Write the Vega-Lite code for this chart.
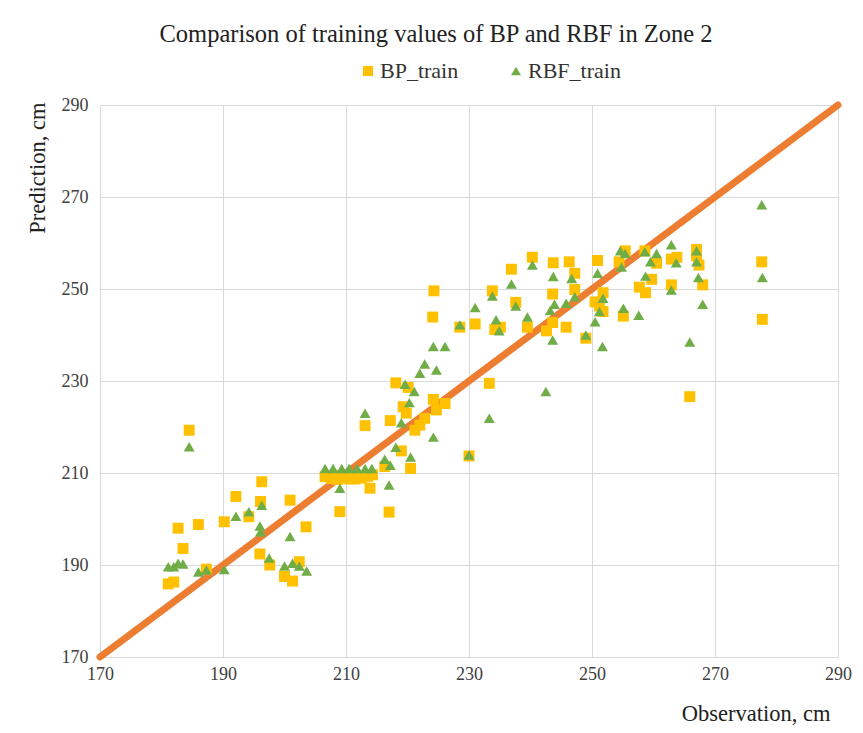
{
  "$schema": "https://vega.github.io/schema/vega-lite/v6.json",
  "autosize": "none",
  "padding": {"left": 100, "top": 105, "right": 25, "bottom": 76},
  "width": 738,
  "height": 552,
  "background": "white",
  "title": {
    "text": "Comparison of training values of BP and RBF in Zone 2",
    "font": "Liberation Serif",
    "fontSize": 24.5,
    "fontWeight": "normal",
    "color": "#222222",
    "anchor": "middle",
    "frame": "group",
    "dx": -33,
    "offset": 13
  },
  "config": {
    "view": {"stroke": null},
    "axis": {
      "labelFont": "Liberation Serif",
      "labelFontSize": 18,
      "labelColor": "#404040",
      "labelFlush": false,
      "titleFont": "Liberation Serif",
      "titleFontSize": 22.5,
      "titleFontWeight": "normal",
      "titleColor": "#222222",
      "gridColor": "#D9D9D9",
      "gridWidth": 1,
      "domain": false,
      "ticks": false
    },
    "legend": {
      "labelFont": "Liberation Serif",
      "labelFontSize": 22,
      "labelColor": "#333333"
    }
  },
  "datasets": {
    "pts": [
      {"s":"BP_train","obs":184.5,"pred":219.3},
      {"s":"BP_train","obs":196.3,"pred":208.1},
      {"s":"BP_train","obs":192.1,"pred":204.9},
      {"s":"BP_train","obs":196.1,"pred":203.8},
      {"s":"BP_train","obs":200.9,"pred":204.1},
      {"s":"BP_train","obs":182.7,"pred":198.0},
      {"s":"BP_train","obs":186.0,"pred":198.8},
      {"s":"BP_train","obs":190.2,"pred":199.4},
      {"s":"BP_train","obs":194.2,"pred":200.5},
      {"s":"BP_train","obs":203.5,"pred":198.3},
      {"s":"BP_train","obs":183.5,"pred":193.6},
      {"s":"BP_train","obs":196.0,"pred":192.4},
      {"s":"BP_train","obs":197.6,"pred":190.0},
      {"s":"BP_train","obs":202.4,"pred":190.7},
      {"s":"BP_train","obs":187.3,"pred":189.1},
      {"s":"BP_train","obs":200.0,"pred":187.5},
      {"s":"BP_train","obs":201.3,"pred":186.5},
      {"s":"BP_train","obs":181.1,"pred":185.9},
      {"s":"BP_train","obs":182.0,"pred":186.3},
      {"s":"BP_train","obs":206.6,"pred":209.2},
      {"s":"BP_train","obs":207.6,"pred":208.8},
      {"s":"BP_train","obs":208.6,"pred":208.6},
      {"s":"BP_train","obs":209.6,"pred":208.9},
      {"s":"BP_train","obs":210.6,"pred":208.7},
      {"s":"BP_train","obs":211.5,"pred":208.7},
      {"s":"BP_train","obs":212.5,"pred":208.9},
      {"s":"BP_train","obs":213.5,"pred":209.3},
      {"s":"BP_train","obs":214.3,"pred":209.6},
      {"s":"BP_train","obs":208.2,"pred":209.5},
      {"s":"BP_train","obs":211.0,"pred":209.4},
      {"s":"BP_train","obs":213.1,"pred":220.3},
      {"s":"BP_train","obs":209.0,"pred":201.6},
      {"s":"BP_train","obs":213.9,"pred":206.7},
      {"s":"BP_train","obs":217.0,"pred":201.5},
      {"s":"BP_train","obs":216.3,"pred":211.4},
      {"s":"BP_train","obs":219.0,"pred":214.8},
      {"s":"BP_train","obs":220.5,"pred":211.0},
      {"s":"BP_train","obs":217.2,"pred":221.4},
      {"s":"BP_train","obs":219.3,"pred":224.4},
      {"s":"BP_train","obs":219.8,"pred":223.0},
      {"s":"BP_train","obs":218.1,"pred":229.6},
      {"s":"BP_train","obs":220.1,"pred":228.6},
      {"s":"BP_train","obs":221.2,"pred":219.3},
      {"s":"BP_train","obs":222.0,"pred":220.4},
      {"s":"BP_train","obs":222.8,"pred":221.9},
      {"s":"BP_train","obs":224.2,"pred":226.0},
      {"s":"BP_train","obs":224.7,"pred":223.7},
      {"s":"BP_train","obs":226.1,"pred":225.1},
      {"s":"BP_train","obs":224.3,"pred":249.6},
      {"s":"BP_train","obs":224.1,"pred":243.9},
      {"s":"BP_train","obs":228.5,"pred":241.7},
      {"s":"BP_train","obs":231.0,"pred":242.4},
      {"s":"BP_train","obs":233.3,"pred":229.5},
      {"s":"BP_train","obs":230.0,"pred":213.7},
      {"s":"BP_train","obs":236.9,"pred":254.3},
      {"s":"BP_train","obs":233.8,"pred":249.6},
      {"s":"BP_train","obs":237.6,"pred":247.1},
      {"s":"BP_train","obs":234.2,"pred":241.2},
      {"s":"BP_train","obs":235.1,"pred":241.7},
      {"s":"BP_train","obs":240.3,"pred":256.9},
      {"s":"BP_train","obs":243.7,"pred":255.7},
      {"s":"BP_train","obs":246.3,"pred":255.9},
      {"s":"BP_train","obs":243.6,"pred":248.9},
      {"s":"BP_train","obs":239.5,"pred":241.7},
      {"s":"BP_train","obs":242.6,"pred":240.9},
      {"s":"BP_train","obs":243.6,"pred":242.7},
      {"s":"BP_train","obs":245.8,"pred":241.7},
      {"s":"BP_train","obs":247.2,"pred":253.4},
      {"s":"BP_train","obs":250.9,"pred":256.2},
      {"s":"BP_train","obs":247.2,"pred":249.9},
      {"s":"BP_train","obs":251.8,"pred":249.2},
      {"s":"BP_train","obs":250.5,"pred":247.2},
      {"s":"BP_train","obs":251.2,"pred":246.3},
      {"s":"BP_train","obs":251.8,"pred":245.1},
      {"s":"BP_train","obs":249.0,"pred":239.3},
      {"s":"BP_train","obs":255.4,"pred":258.3},
      {"s":"BP_train","obs":254.4,"pred":255.9},
      {"s":"BP_train","obs":258.6,"pred":258.3},
      {"s":"BP_train","obs":260.5,"pred":255.6},
      {"s":"BP_train","obs":259.7,"pred":252.1},
      {"s":"BP_train","obs":257.7,"pred":250.4},
      {"s":"BP_train","obs":258.7,"pred":249.2},
      {"s":"BP_train","obs":255.1,"pred":244.1},
      {"s":"BP_train","obs":262.9,"pred":256.5},
      {"s":"BP_train","obs":263.8,"pred":256.9},
      {"s":"BP_train","obs":262.9,"pred":250.9},
      {"s":"BP_train","obs":267.0,"pred":258.6},
      {"s":"BP_train","obs":267.0,"pred":257.2},
      {"s":"BP_train","obs":267.4,"pred":255.2},
      {"s":"BP_train","obs":268.0,"pred":250.9},
      {"s":"BP_train","obs":265.9,"pred":226.6},
      {"s":"BP_train","obs":277.6,"pred":255.9},
      {"s":"BP_train","obs":277.7,"pred":243.4},
      {"s":"RBF_train","obs":184.5,"pred":215.7},
      {"s":"RBF_train","obs":192.1,"pred":200.6},
      {"s":"RBF_train","obs":194.2,"pred":201.6},
      {"s":"RBF_train","obs":196.3,"pred":203.0},
      {"s":"RBF_train","obs":196.0,"pred":198.5},
      {"s":"RBF_train","obs":196.1,"pred":197.2},
      {"s":"RBF_train","obs":200.9,"pred":196.2},
      {"s":"RBF_train","obs":197.5,"pred":191.5},
      {"s":"RBF_train","obs":181.1,"pred":189.6},
      {"s":"RBF_train","obs":182.0,"pred":189.6},
      {"s":"RBF_train","obs":182.7,"pred":190.4},
      {"s":"RBF_train","obs":183.5,"pred":190.2},
      {"s":"RBF_train","obs":186.0,"pred":188.5},
      {"s":"RBF_train","obs":187.3,"pred":188.9},
      {"s":"RBF_train","obs":190.2,"pred":189.0},
      {"s":"RBF_train","obs":200.0,"pred":189.8},
      {"s":"RBF_train","obs":201.3,"pred":190.4},
      {"s":"RBF_train","obs":202.4,"pred":189.8},
      {"s":"RBF_train","obs":203.6,"pred":188.7},
      {"s":"RBF_train","obs":206.6,"pred":211.0},
      {"s":"RBF_train","obs":207.9,"pred":211.0},
      {"s":"RBF_train","obs":209.3,"pred":211.0},
      {"s":"RBF_train","obs":210.5,"pred":211.0},
      {"s":"RBF_train","obs":211.8,"pred":211.0},
      {"s":"RBF_train","obs":213.1,"pred":211.0},
      {"s":"RBF_train","obs":214.2,"pred":211.0},
      {"s":"RBF_train","obs":213.1,"pred":223.0},
      {"s":"RBF_train","obs":209.0,"pred":206.7},
      {"s":"RBF_train","obs":217.0,"pred":207.4},
      {"s":"RBF_train","obs":216.3,"pred":213.0},
      {"s":"RBF_train","obs":217.2,"pred":211.7},
      {"s":"RBF_train","obs":218.1,"pred":215.6},
      {"s":"RBF_train","obs":220.5,"pred":213.5},
      {"s":"RBF_train","obs":219.0,"pred":220.9},
      {"s":"RBF_train","obs":220.3,"pred":225.3},
      {"s":"RBF_train","obs":219.6,"pred":229.3},
      {"s":"RBF_train","obs":221.1,"pred":227.7},
      {"s":"RBF_train","obs":222.0,"pred":231.7},
      {"s":"RBF_train","obs":222.8,"pred":233.7},
      {"s":"RBF_train","obs":224.7,"pred":232.4},
      {"s":"RBF_train","obs":224.2,"pred":217.8},
      {"s":"RBF_train","obs":228.5,"pred":242.2},
      {"s":"RBF_train","obs":231.0,"pred":246.0},
      {"s":"RBF_train","obs":224.2,"pred":237.5},
      {"s":"RBF_train","obs":226.1,"pred":237.5},
      {"s":"RBF_train","obs":233.3,"pred":221.9},
      {"s":"RBF_train","obs":230.0,"pred":213.9},
      {"s":"RBF_train","obs":242.5,"pred":227.7},
      {"s":"RBF_train","obs":233.8,"pred":248.5},
      {"s":"RBF_train","obs":236.9,"pred":251.1},
      {"s":"RBF_train","obs":237.6,"pred":246.3},
      {"s":"RBF_train","obs":234.4,"pred":243.3},
      {"s":"RBF_train","obs":234.9,"pred":240.9},
      {"s":"RBF_train","obs":240.3,"pred":255.2},
      {"s":"RBF_train","obs":243.7,"pred":252.7},
      {"s":"RBF_train","obs":243.9,"pred":246.7},
      {"s":"RBF_train","obs":243.2,"pred":245.3},
      {"s":"RBF_train","obs":245.8,"pred":246.9},
      {"s":"RBF_train","obs":239.5,"pred":243.9},
      {"s":"RBF_train","obs":243.6,"pred":238.9},
      {"s":"RBF_train","obs":246.7,"pred":252.3},
      {"s":"RBF_train","obs":250.9,"pred":253.4},
      {"s":"RBF_train","obs":247.2,"pred":248.3},
      {"s":"RBF_train","obs":251.8,"pred":248.0},
      {"s":"RBF_train","obs":251.2,"pred":245.1},
      {"s":"RBF_train","obs":250.5,"pred":242.9},
      {"s":"RBF_train","obs":249.0,"pred":240.0},
      {"s":"RBF_train","obs":251.7,"pred":237.5},
      {"s":"RBF_train","obs":254.6,"pred":258.3},
      {"s":"RBF_train","obs":255.4,"pred":257.7},
      {"s":"RBF_train","obs":254.8,"pred":254.8},
      {"s":"RBF_train","obs":258.6,"pred":258.1},
      {"s":"RBF_train","obs":260.5,"pred":257.7},
      {"s":"RBF_train","obs":259.5,"pred":255.9},
      {"s":"RBF_train","obs":258.7,"pred":252.8},
      {"s":"RBF_train","obs":255.1,"pred":245.8},
      {"s":"RBF_train","obs":257.6,"pred":244.3},
      {"s":"RBF_train","obs":262.9,"pred":259.6},
      {"s":"RBF_train","obs":263.7,"pred":255.7},
      {"s":"RBF_train","obs":262.9,"pred":249.8},
      {"s":"RBF_train","obs":267.0,"pred":258.3},
      {"s":"RBF_train","obs":267.0,"pred":255.9},
      {"s":"RBF_train","obs":267.3,"pred":252.5},
      {"s":"RBF_train","obs":268.0,"pred":246.7},
      {"s":"RBF_train","obs":265.9,"pred":238.5},
      {"s":"RBF_train","obs":277.6,"pred":268.3},
      {"s":"RBF_train","obs":277.7,"pred":252.5}
    ],
    "ref": [
      {"obs": 170, "pred": 170},
      {"obs": 290, "pred": 290}
    ]
  },
  "layer": [
    {
      "data": {"name": "ref"},
      "mark": {"type": "line", "color": "#ED7D31", "strokeWidth": 7, "strokeCap": "round"},
      "encoding": {
        "x": {"field": "obs", "type": "quantitative"},
        "y": {"field": "pred", "type": "quantitative"}
      }
    },
    {
      "data": {"name": "pts"},
      "mark": {"type": "point", "filled": true, "opacity": 1, "size": 120},
      "encoding": {
        "x": {
          "field": "obs", "type": "quantitative",
          "scale": {"domain": [170, 290], "nice": false, "zero": false},
          "axis": {"values": [170, 190, 210, 230, 250, 270, 290], "title": "Observation, cm", "titleAnchor": "end", "titleAlign": "right", "titleX": 730, "labelPadding": 8, "titlePadding": 19}
        },
        "y": {
          "field": "pred", "type": "quantitative",
          "scale": {"domain": [170, 290], "nice": false, "zero": false},
          "axis": {"values": [170, 190, 210, 230, 250, 270, 290], "title": "Prediction, cm", "titleAnchor": "end", "titleAlign": "right", "titleY": -3, "labelPadding": 12, "titlePadding": 12}
        },
        "color": {
          "field": "s", "type": "nominal",
          "scale": {"domain": ["BP_train", "RBF_train"], "range": ["#FFC000", "#70AD47"]},
          "legend": {"title": null, "orient": "none", "direction": "horizontal", "legendX": 257, "legendY": -45, "columnPadding": 46, "symbolSize": 100, "labelOffset": 1}
        },
        "shape": {
          "field": "s", "type": "nominal",
          "scale": {"domain": ["BP_train", "RBF_train"], "range": ["square", "triangle-up"]}
        }
      }
    }
  ]
}
